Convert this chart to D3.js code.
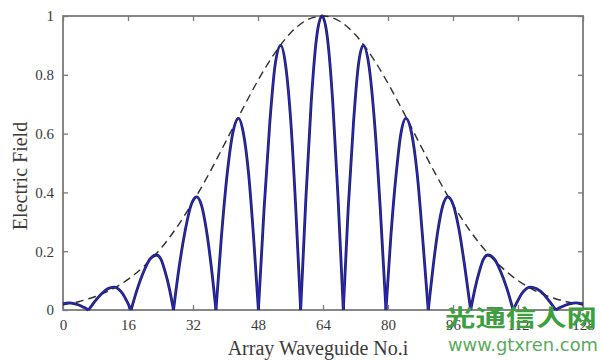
<!DOCTYPE html>
<html>
<head>
<meta charset="utf-8">
<script src="https://cdn.jsdelivr.net/npm/d3@7"></script>
<style>
  html, body { margin: 0; padding: 0; background: #fff; }
  svg { display: block; }
</style>
</head>
<body>
<svg id="chart" width="602" height="360"></svg>
<script>
// Axis ticks
const xTicks = [0, 16, 32, 48, 64, 80, 96, 112, 128];
const yTicks = [0, 0.2, 0.4, 0.6, 0.8, 1];
const yTickLabels = ["0", "0.2", "0.4", "0.6", "0.8", "1"];

// Field amplitude across the array (lobes separated by nulls)
const fieldX = [
  0, 1.5, 2.7, 3.9, 5.1, 6.3,
  7.9, 9.5, 11.0, 12.6, 13.6, 14.7, 15.7, 16.75,
  18.3, 19.9, 21.4, 23.0, 24.1, 25.1, 26.2, 27.2,
  28.6, 30.1, 31.5, 32.9, 34.1, 35.3, 36.5, 37.65,
  39.0, 40.4, 41.8, 43.2, 44.4, 45.7, 46.9, 48.1,
  49.5, 50.9, 52.2, 53.6, 54.8, 56.1, 57.3, 58.5,
  59.8, 61.1, 62.4, 63.75, 65.1, 66.4, 67.7, 69.0,
  70.2, 71.5, 72.7, 73.9, 75.3, 76.7, 78.1, 79.5,
  80.7, 82.0, 83.2, 84.4, 85.8, 87.2, 88.5, 89.9,
  91.1, 92.3, 93.5, 94.7, 96.1, 97.5, 98.9, 100.35,
  101.4, 102.5, 103.5, 104.6, 106.2, 107.7, 109.3, 110.8,
  111.9, 112.9, 114.0, 115.0, 116.6, 118.2, 119.7, 121.3,
  122.5, 123.8, 125.0, 126.2, 128
];
const fieldY = [
  0.021, 0.024, 0.022, 0.017, 0.009, 0,
  0.030, 0.055, 0.072, 0.078, 0.072, 0.055, 0.030, 0,
  0.072, 0.132, 0.173, 0.187, 0.173, 0.132, 0.072, 0,
  0.147, 0.272, 0.356, 0.385, 0.356, 0.272, 0.147, 0,
  0.250, 0.461, 0.602, 0.652, 0.602, 0.461, 0.250, 0,
  0.345, 0.636, 0.832, 0.900, 0.832, 0.636, 0.345, 0,
  0.383, 0.707, 0.924, 1.000, 0.924, 0.707, 0.383, 0,
  0.345, 0.636, 0.832, 0.900, 0.832, 0.636, 0.345, 0,
  0.250, 0.461, 0.602, 0.652, 0.602, 0.461, 0.250, 0,
  0.147, 0.272, 0.356, 0.385, 0.356, 0.272, 0.147, 0,
  0.072, 0.132, 0.173, 0.187, 0.173, 0.132, 0.072, 0,
  0.030, 0.055, 0.072, 0.078, 0.072, 0.055, 0.030, 0,
  0.009, 0.017, 0.022, 0.024, 0.021
];

// Gaussian envelope of the field
const envX = [0, 4, 8, 12, 16, 20, 24, 28, 32, 36, 40, 44, 48, 52, 56, 60, 64,
              68, 72, 76, 80, 84, 88, 92, 96, 100, 104, 108, 112, 116, 120, 124, 128];
const envY = [0.018, 0.029, 0.046, 0.070, 0.104, 0.150, 0.208, 0.281, 0.368, 0.465, 0.571,
              0.678, 0.781, 0.871, 0.942, 0.986, 1.000, 0.983, 0.936, 0.863, 0.771, 0.668,
              0.560, 0.455, 0.358, 0.273, 0.202, 0.145, 0.100, 0.067, 0.044, 0.028, 0.017];

const svg = d3.select("#chart");
const plotL = 63, plotR = 583, plotT = 16, plotB = 310;

const x = d3.scaleLinear().domain([0, 128]).range([plotL, plotR]);
const y = d3.scaleLinear().domain([0, 1]).range([plotB, plotT]);

const axisColor = "#7a7a7a";
const textColor = "#3a3a3a";
const serif = "'Liberation Serif', 'Times New Roman', serif";

// Axes with inward ticks on all four sides
const gB = svg.append("g").attr("transform", `translate(0,${plotB})`)
  .call(d3.axisBottom(x).tickValues(xTicks).tickSizeInner(-5).tickSizeOuter(0).tickPadding(9));
const gT = svg.append("g").attr("transform", `translate(0,${plotT})`)
  .call(d3.axisTop(x).tickValues(xTicks).tickSizeInner(-5).tickSizeOuter(0).tickFormat(() => ""));
const gL = svg.append("g").attr("transform", `translate(${plotL},0)`)
  .call(d3.axisLeft(y).tickValues(yTicks).tickSizeInner(-5).tickSizeOuter(0).tickPadding(9)
        .tickFormat((d, i) => yTickLabels[i]));
const gR = svg.append("g").attr("transform", `translate(${plotR},0)`)
  .call(d3.axisRight(y).tickValues(yTicks).tickSizeInner(-5).tickSizeOuter(0).tickFormat(() => ""));

[gB, gT, gL, gR].forEach(g => {
  g.select(".domain").remove();
  g.selectAll(".tick line").attr("stroke", axisColor).attr("stroke-width", 1.3);
  g.selectAll(".tick text").attr("fill", textColor)
    .style("font-family", serif).style("font-size", "15px");
});

// Plot frame
svg.append("rect")
  .attr("x", plotL).attr("y", plotT)
  .attr("width", plotR - plotL).attr("height", plotB - plotT)
  .attr("fill", "none").attr("stroke", axisColor).attr("stroke-width", 1.8);

// Envelope (dashed)
const envPts = envX.map((v, i) => [v, envY[i]]);
svg.append("path")
  .attr("d", d3.line().x(d => x(d[0])).y(d => y(d[1])).curve(d3.curveMonotoneX)(envPts))
  .attr("fill", "none").attr("stroke", "#2e2e2e").attr("stroke-width", 1.4)
  .attr("stroke-dasharray", "8,5");

// Field lobes, each drawn between neighbouring nulls so the nulls stay sharp
const lobes = [];
let cur = [];
fieldX.forEach((v, i) => {
  const p = [v, fieldY[i]];
  cur.push(p);
  if (fieldY[i] === 0 && cur.length > 1) {
    lobes.push(cur);
    cur = [p];
  }
});
if (cur.length > 1) lobes.push(cur);

const lobeLine = d3.line().x(d => x(d[0])).y(d => y(d[1])).curve(d3.curveMonotoneX);
svg.append("g").selectAll("path").data(lobes).join("path")
  .attr("d", lobeLine).attr("fill", "none")
  .attr("stroke", "#1c1c55").attr("stroke-width", 2.8).attr("stroke-linejoin", "round");
svg.append("g").selectAll("path").data(lobes).join("path")
  .attr("d", lobeLine).attr("fill", "none")
  .attr("stroke", "#2a2ad0").attr("stroke-width", 1.2).attr("stroke-linejoin", "round");

// Axis titles
svg.append("text")
  .attr("x", 318).attr("y", 355).attr("text-anchor", "middle")
  .attr("fill", textColor).style("font-family", serif).style("font-size", "20px")
  .text("Array Waveguide No.i");
svg.append("text")
  .attr("transform", "translate(27,176) rotate(-90)").attr("text-anchor", "middle")
  .attr("fill", textColor).style("font-family", serif).style("font-size", "20px")
  .text("Electric Field");

// Site mark, laid over the lower right corner of the chart
svg.append("text")
  .attr("x", 445).attr("y", 326)
  .attr("textLength", 152).attr("lengthAdjust", "spacingAndGlyphs")
  .attr("fill", "#3f9f3f").style("font-family", "'Noto Sans CJK SC', sans-serif")
  .style("font-weight", "bold").style("font-size", "23px")
  .text("光通信人网");
svg.append("text")
  .attr("x", 448).attr("y", 351)
  .attr("textLength", 150).attr("lengthAdjust", "spacingAndGlyphs")
  .attr("fill", "#5aaa5a").style("font-family", "'DejaVu Sans', sans-serif")
  .style("font-size", "18px")
  .text("www.gtxren.com");
</script>
</body>
</html>
